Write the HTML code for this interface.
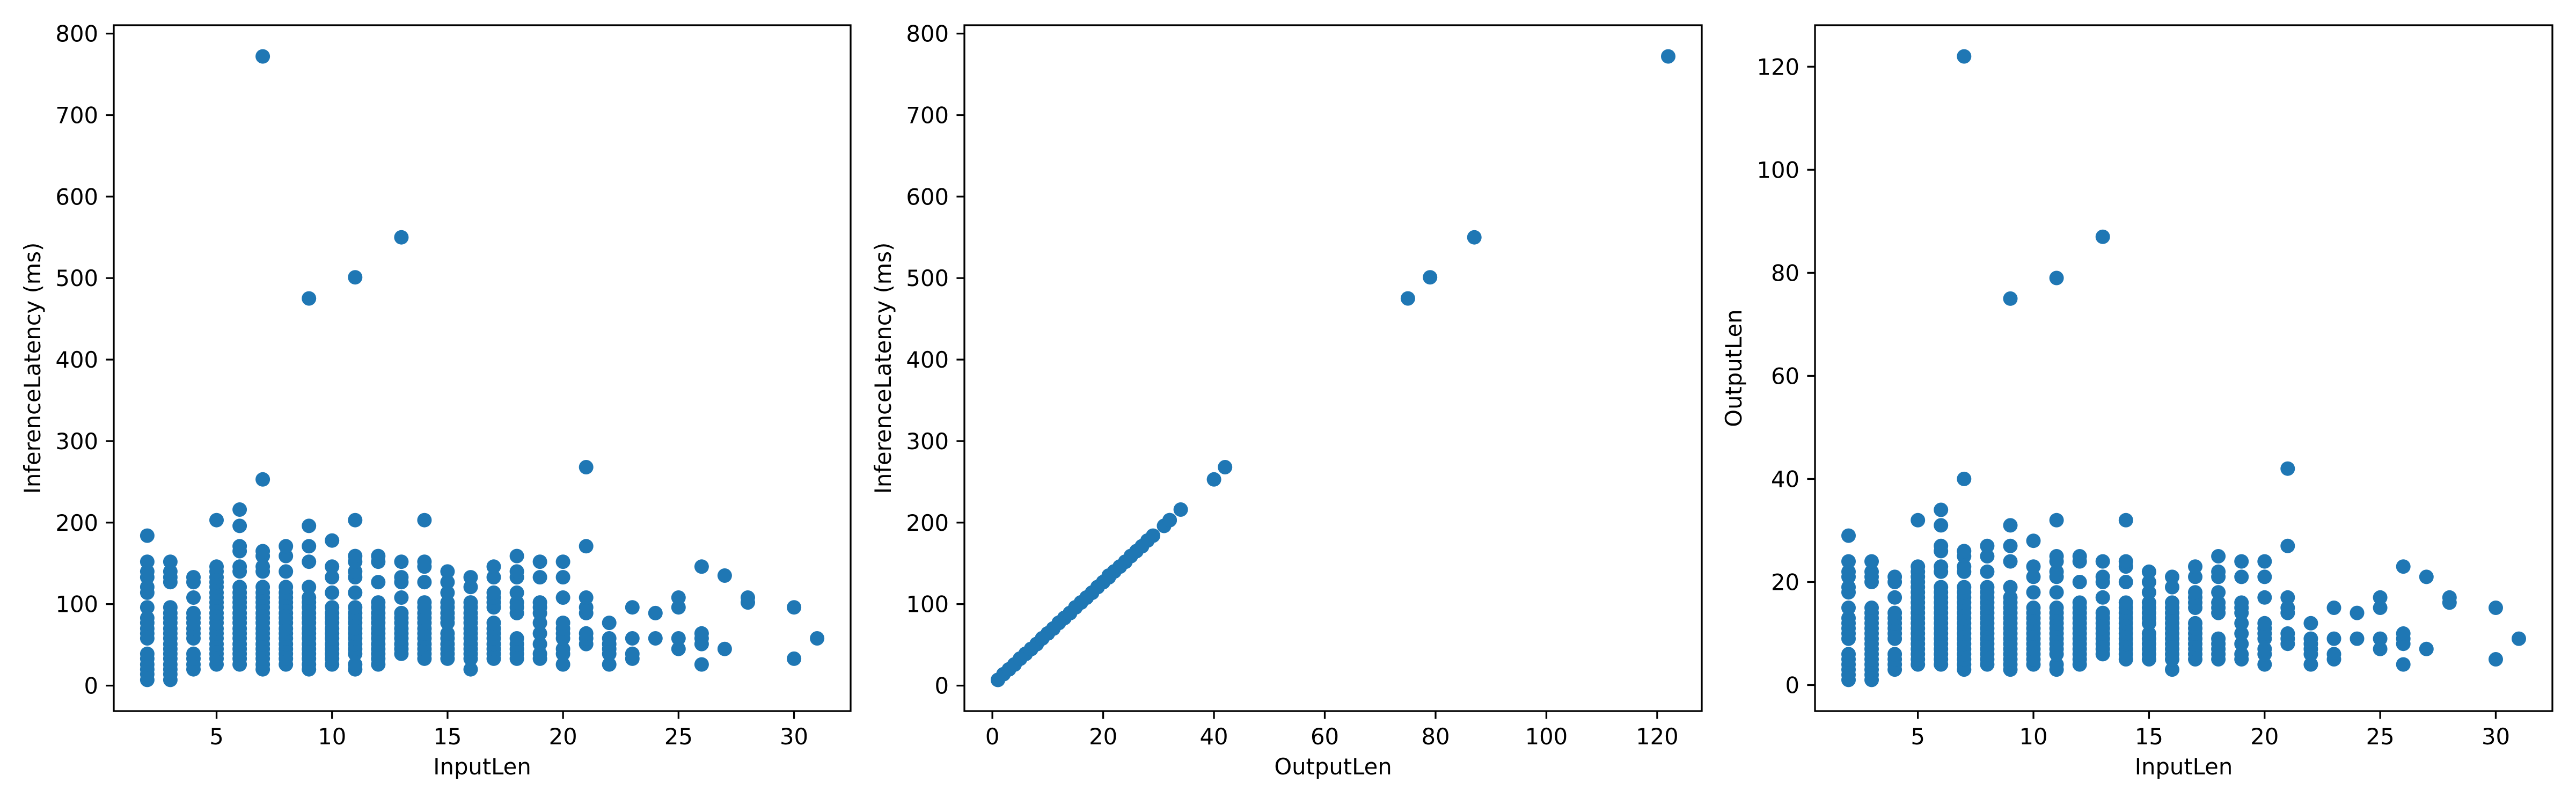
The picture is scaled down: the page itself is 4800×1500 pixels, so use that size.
<!DOCTYPE html>
<html><head><meta charset="utf-8"><style>
html,body{margin:0;padding:0;background:#fff;}
svg{display:block;font-family:"DejaVu Sans","Liberation Sans",sans-serif;}
</style></head><body>
<svg id="fig" width="4800" height="1500" viewBox="0 0 4800 1500" xmlns="http://www.w3.org/2000/svg"></svg>
<script>
const inputGroups = [2,3,4,5,6,7,8,9,10,11,12,13,14,15,16,17,18,19,20,21,22,23,24,25,26,27,28,30,31];
const outputByGroup = [
[1,2,3,4,5,6,9,10,11,12,13,15,18,19,21,22,24,29],
[1,2,3,4,5,6,7,8,9,10,11,12,13,14,15,20,21,22,24],
[3,4,5,6,9,10,11,12,13,14,17,20,21],
[4,5,6,7,8,9,10,11,12,13,14,15,16,17,18,19,20,21,22,23,32],
[4,5,6,7,8,9,10,11,12,13,14,15,16,17,18,19,22,23,26,27,31,34],
[3,4,5,6,7,8,9,10,11,12,13,14,15,16,17,18,19,22,23,25,26,40,122],
[4,5,6,7,8,9,10,11,12,13,14,15,16,17,18,19,22,25,27],
[3,4,5,6,7,8,9,10,11,12,13,14,15,16,17,19,24,27,31,75],
[4,5,6,7,8,9,10,11,12,13,14,15,18,21,23,28],
[3,4,6,7,8,9,10,11,12,13,14,15,18,21,22,24,25,32,79],
[4,5,6,7,8,9,10,11,12,13,14,15,16,20,24,25],
[6,7,8,9,10,11,12,13,14,17,20,21,24,87],
[5,6,7,8,9,10,11,12,13,14,15,16,20,23,24,32],
[5,6,7,8,9,10,12,13,14,15,16,18,20,22],
[3,5,6,7,8,9,10,11,12,13,14,15,16,19,21],
[5,6,7,8,9,10,11,12,15,16,17,18,21,23],
[5,6,7,8,9,14,15,16,18,21,22,25],
[5,6,8,10,12,14,15,16,21,24],
[4,6,7,9,10,11,12,17,21,24],
[8,9,10,14,15,17,27,42],
[4,6,7,8,9,12],
[5,6,9,15],
[9,14],
[7,9,15,17],
[4,8,9,10,23],
[7,21],
[16,17],
[5,15],
[9]
];
const latencyByGroup = [
[7,14,20,26,33,39,58,64,70,77,83,96,114,121,133,140,152,184],
[7,14,20,26,33,39,45,51,58,64,70,77,83,89,96,127,133,140,152],
[20,26,33,39,58,64,70,77,83,89,108,127,133],
[26,33,39,45,51,58,64,70,77,83,89,96,102,108,114,121,127,133,140,146,203],
[26,33,39,45,51,58,64,70,77,83,89,96,102,108,114,121,140,146,165,171,196,216],
[20,26,33,39,45,51,58,64,70,77,83,89,96,102,108,114,121,140,146,159,165,253,772],
[26,33,39,45,51,58,64,70,77,83,89,96,102,108,114,121,140,159,171],
[20,26,33,39,45,51,58,64,70,77,83,89,96,102,108,121,152,171,196,475],
[26,33,39,45,51,58,64,70,77,83,89,96,114,133,146,178],
[20,26,39,45,51,58,64,70,77,83,89,96,114,133,140,152,159,203,501],
[26,33,39,45,51,58,64,70,77,83,89,96,102,127,152,159],
[39,45,51,58,64,70,77,83,89,108,127,133,152,550],
[33,39,45,51,58,64,70,77,83,89,96,102,127,146,152,203],
[33,39,45,51,58,64,77,83,89,96,102,114,127,140],
[20,33,39,45,51,58,64,70,77,83,89,96,102,121,133],
[33,39,45,51,58,64,70,77,96,102,108,114,133,146],
[33,39,45,51,58,89,96,102,114,133,140,159],
[33,39,51,64,77,89,96,102,133,152],
[26,39,45,58,64,70,77,108,133,152],
[51,58,64,89,96,108,171,268],
[26,39,45,51,58,77],
[33,39,58,96],
[58,89],
[45,58,96,108],
[26,51,58,64,146],
[45,135],
[102,108],
[33,96],
[58]
];
const inputTicks = [5,10,15,20,25,30];
const outputTicksX = [0,20,40,60,80,100,120];
const latencyTicks = [0,100,200,300,400,500,600,700,800];
const outputTicksY = [0,20,40,60,80,100,120];

const NS = "http://www.w3.org/2000/svg";
const svg = document.getElementById('fig');
function mk(tag, attrs, parent){const e=document.createElementNS(NS,tag);for(const k in attrs)e.setAttribute(k,attrs[k]);(parent||svg).appendChild(e);return e;}

// flatten
const pts = [];
inputGroups.forEach((g,i)=>{outputByGroup[i].forEach((o,j)=>{pts.push({inp:g,out:o,lat:latencyByGroup[i][j]});});});

function ext(arr){let lo=Math.min(...arr),hi=Math.max(...arr);const m=(hi-lo)*0.05;return [lo-m,hi+m];}

const TOP=47, BOTTOM=1325;
const panels = [
 {name:'latency-vs-input', left:212, right:1585, xk:'inp', yk:'lat', xt:inputTicks, yt:latencyTicks, xl:'InputLen', yl:'InferenceLatency (ms)'},
 {name:'latency-vs-output', left:1797, right:3171, xk:'out', yk:'lat', xt:outputTicksX, yt:latencyTicks, xl:'OutputLen', yl:'InferenceLatency (ms)'},
 {name:'output-vs-input', left:3382, right:4756, xk:'inp', yk:'out', xt:inputTicks, yt:outputTicksY, xl:'InputLen', yl:'OutputLen'}
];
panels.forEach((p,pi)=>{
  const g = mk('g',{});
  
  
  const [x0,x1]=ext(pts.map(d=>d[p.xk])), [y0,y1]=ext(pts.map(d=>d[p.yk]));
  const sx=v=>p.left+(v-x0)/(x1-x0)*(p.right-p.left);
  const sy=v=>BOTTOM-(v-y0)/(y1-y0)*(BOTTOM-TOP);
  const pg = mk('g',{},g);
  
  
  pts.forEach(d=>{
    const c=mk('circle',{cx:sx(d[p.xk]).toFixed(1),cy:sy(d[p.yk]).toFixed(1),r:13.5,fill:'#1f77b4'},pg);
    
    
  });
  const fr=mk('rect',{x:p.left,y:TOP,width:p.right-p.left,height:BOTTOM-TOP,fill:'none',stroke:'#000','stroke-width':3.3},g);
  
  
  p.xt.forEach(t=>{
    const x=sx(t);
    mk('line',{x1:x,x2:x,y1:BOTTOM,y2:BOTTOM+14.6,stroke:'#000','stroke-width':3.3},g);
    const tx=mk('text',{x:x,y:BOTTOM+62,'font-size':41.7,'text-anchor':'middle',fill:'#000'},g);
    tx.textContent=t;
    
    
  });
  p.yt.forEach(t=>{
    const y=sy(t);
    mk('line',{x1:p.left-14.6,x2:p.left,y1:y,y2:y,stroke:'#000','stroke-width':3.3},g);
    const tx=mk('text',{x:p.left-29,y:y+15,'font-size':41.7,'text-anchor':'end',fill:'#000'},g);
    tx.textContent=t;
    
    
  });
  const xl=mk('text',{x:(p.left+p.right)/2,y:1443,'font-size':41.7,'text-anchor':'middle',fill:'#000'},g);
  xl.textContent=p.xl;
  
  
  const cx=p.left-137, cy=(TOP+BOTTOM)/2;
  const yl=mk('text',{x:cx,y:cy,'font-size':41.7,'text-anchor':'middle',fill:'#000',transform:`rotate(-90 ${cx} ${cy})`},g);
  yl.textContent=p.yl;
  
  
});
</script>
</body></html>
